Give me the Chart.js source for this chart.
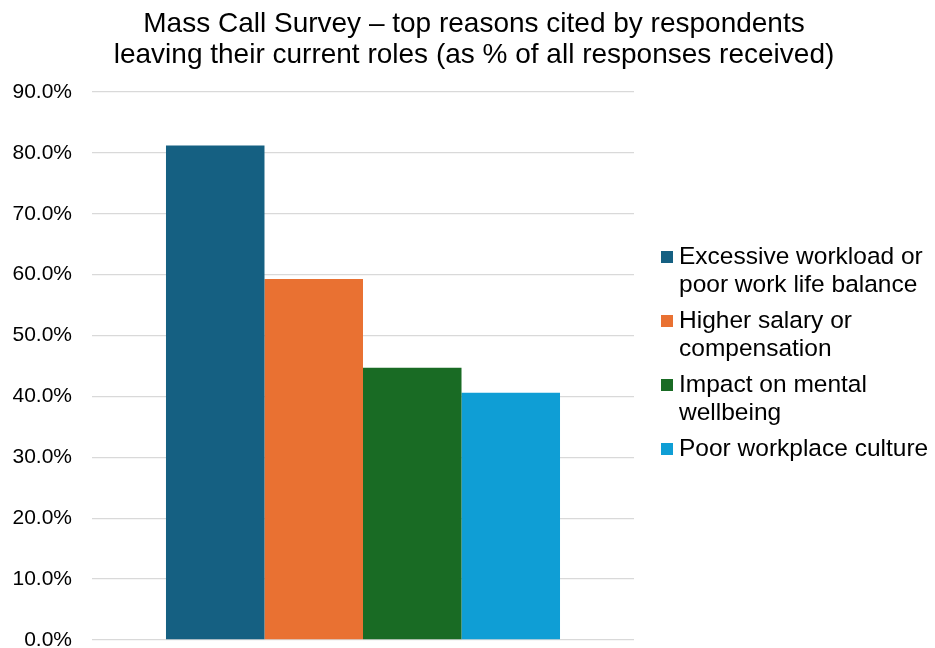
<!DOCTYPE html>
<html>
<head>
<meta charset="utf-8">
<title>Mass Call Survey</title>
<script src="https://cdn.jsdelivr.net/npm/chart.js@4.4.1/dist/chart.umd.min.js"></script>
<style>
	html, body {
		margin: 0;
		padding: 0;
		background: #ffffff;
	}
	#chartBox {
		width: 935px;
		height: 648px;
	}
</style>
</head>
<body>
<div id="chartBox"><canvas id="reasonsChart"></canvas></div>
<script>
	// survey reasons and share of responses (%)
	var reasonLabels = [
		"Excessive workload or poor work life balance",
		"Higher salary or compensation",
		"Impact on mental wellbeing",
		"Poor workplace culture"
	];
	var reasonValues = [81.2, 59.3, 44.7, 40.6];
	var reasonColours = ["#156082", "#E97132", "#196B24", "#0F9ED5"];
	var titleLines = [
		"Mass Call Survey \u2013 top reasons cited by respondents",
		"leaving their current roles (as % of all responses received)"
	];
	var yMin = 0;
	var yMax = 90;
	var yStep = 10;

	var fontFamily = "'Liberation Sans', Arial, Helvetica, sans-serif";

	// break a legend label into lines that fit maxWidth
	var wrapText = function(ctx, text, maxWidth) {
		var words = text.split(" ");
		var lines = [];
		var line = "";
		for (var i = 0; i < words.length; i++) {
			var test = line ? line + " " + words[i] : words[i];
			if (line && ctx.measureText(test).width > maxWidth) {
				lines.push(line);
				line = words[i];
			} else {
				line = test;
			}
		}
		if (line) lines.push(line);
		return lines;
	};

	// title spans the whole canvas, not just the plot + legend box
	var wideTitle = {
		id: "wideTitle",
		afterDraw: function(chart) {
			var ctx = chart.ctx;
			ctx.save();
			ctx.font = "28px " + fontFamily;
			ctx.fillStyle = "#000000";
			ctx.textAlign = "center";
			ctx.textBaseline = "alphabetic";
			for (var i = 0; i < titleLines.length; i++) {
				ctx.fillText(titleLines[i], 474, 32 + i * 31);
			}
			ctx.restore();
		}
	};

	// legend on the right, with wrapped labels
	var sideLegend = {
		id: "sideLegend",
		afterDraw: function(chart) {
			var ctx = chart.ctx;
			var area = chart.chartArea;
			var boxSize = 12;
			var lineHeight = 28;
			var itemGap = 8;
			var x = area.right + 27;
			var y = area.top + 165;

			ctx.save();
			ctx.font = "24.5px " + fontFamily;
			ctx.textBaseline = "middle";
			ctx.textAlign = "left";

			chart.data.datasets.forEach(function(ds) {
				var lines = wrapText(ctx, ds.label, 252);
				ctx.fillStyle = ds.backgroundColor;
				ctx.fillRect(x, y - boxSize / 2, boxSize, boxSize);
				ctx.fillStyle = "#000000";
				for (var j = 0; j < lines.length; j++) {
					ctx.fillText(lines[j], x + 18, y + j * lineHeight);
				}
				y += lines.length * lineHeight + itemGap;
			});
			ctx.restore();
		}
	};

	var datasets = [];
	for (var i = 0; i < reasonLabels.length; i++) {
		datasets.push({
			label: reasonLabels[i],
			data: [reasonValues[i]],
			backgroundColor: reasonColours[i],
			borderWidth: 0,
			barPercentage: 1,
			categoryPercentage: 0.727
		});
	}

	var context = document.getElementById("reasonsChart").getContext("2d");
	var reasonsChart = new Chart(context, {
		type: "bar",
		data: {
			labels: [""],
			datasets: datasets
		},
		options: {
			responsive: true,
			maintainAspectRatio: false,
			animation: false,
			layout: {
				padding: { top: 92, right: 301, bottom: 8, left: 0 }
			},
			plugins: {
				legend: { display: false },
				tooltip: { enabled: false },
				title: { display: false }
			},
			scales: {
				x: {
					display: false
				},
				y: {
					min: yMin,
					max: yMax,
					border: { display: false },
					grid: {
						color: "#D9D9D9",
						lineWidth: 1.3,
						drawTicks: false
					},
					ticks: {
						stepSize: yStep,
						padding: 20,
						color: "#000000",
						font: { family: fontFamily, size: 21 },
						callback: function(value) {
							return value.toFixed(1) + "%";
						}
					},
					afterFit: function(scale) {
						scale.width = 92;
						scale.paddingTop = 0;
						scale.paddingBottom = 0;
					}
				}
			}
		},
		plugins: [wideTitle, sideLegend]
	});
</script>
</body>
</html>
